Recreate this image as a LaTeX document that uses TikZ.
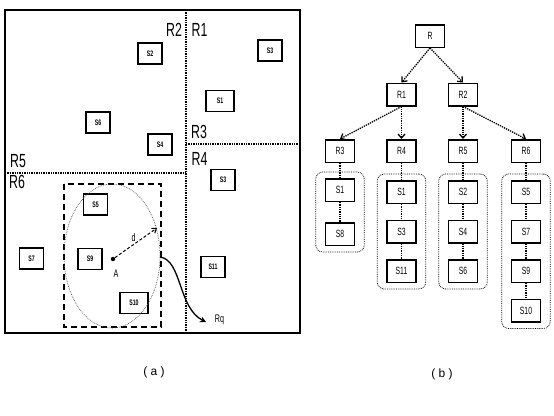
\documentclass[tikz,border=0pt]{standalone}
\usepackage{fontspec}
\setmainfont{Liberation Sans}
\usepackage{graphicx}
\usetikzlibrary{positioning,fit,arrows.meta}
\newcommand{\nrw}[1]{\scalebox{0.65}[1]{#1}}
\tikzset{
  cell/.style={draw=black,line width=1.4pt,minimum width=24pt,minimum height=21pt,inner sep=0pt,font=\bfseries\fontsize{8}{8}\selectfont},
  tnode/.style={draw=black,line width=1.5pt,minimum width=29pt,minimum height=22.5pt,inner sep=0pt,font=\fontsize{10.5}{10.5}\selectfont},
  region/.style={inner sep=0pt,font=\fontsize{19}{19}\selectfont},
  mark label/.style={inner sep=0pt,font=\fontsize{11}{11}\selectfont},
  split/.style={line width=1.4pt,densely dotted},
  link/.style={line width=1.3pt,densely dotted},
  tarrow/.style={link,-{Straight Barb[length=4pt,width=7pt]}},
  group/.style={draw=black,line width=0.8pt,densely dotted,rounded corners=7pt,inner xsep=9pt,inner ysep=6pt},
  caption/.style={inner sep=0pt,font=\fontsize{12}{12}\selectfont}
}
\begin{document}
\begin{tikzpicture}[x=1pt,y=-1pt,node distance=15.5pt]
  \useasboundingbox (0,0) rectangle (554,415);
  % (a) partition of the space
  \draw[line width=1.5pt] (5,10) rectangle (300,333);
  \draw[split] (186,10) -- (186,333);
  \draw[split] (5,173) -- (186,173);
  \draw[split] (186,144) -- (300,144);
  \node[region] (r2) at (174,30) {\nrw{R2}};
  \node[region] (r1) at (199.5,30) {\nrw{R1}};
  \node[region] (r3) at (199,132) {\nrw{R3}};
  \node[region] (r4) at (199.5,159) {\nrw{R4}};
  \node[region] (r5) at (18,161) {\nrw{R5}};
  \node[region] (r6) at (17,182) {\nrw{R6}};
  \node[cell] (s2) at (150,53.5) {\nrw{S2}};
  \node[cell] (s3a) at (270,50.5) {\nrw{S3}};
  \node[cell,minimum width=28pt] (s1) at (220,101) {\nrw{S1}};
  \node[cell] (s6) at (98,122.5) {\nrw{S6}};
  \node[cell] (s4) at (160,144.5) {\nrw{S4}};
  \node[cell] (s3) at (223,180) {\nrw{S3}};
  \node[cell] (s5) at (95.5,204.5) {\nrw{S5}};
  \node[cell] (s7) at (31.5,258.5) {\nrw{S7}};
  \node[cell] (s9) at (90,259) {\nrw{S9}};
  \node[cell] (s11) at (213,267) {\nrw{S11}};
  \node[cell,minimum width=28pt] (s10) at (134,303) {\nrw{S10}};
  % query window
  \draw[line width=1.4pt,dash pattern=on 6pt off 4pt] (64,184) rectangle (161,327);
  \draw[black!70,densely dotted,line width=0.7pt] (112,256) ellipse [x radius=48pt,y radius=72pt];
  \node[circle,fill=black,inner sep=0pt,minimum size=4.5pt] (a) at (113,259) {};
  \node[mark label] (alab) at (116,273.5) {\nrw{A}};
  \coordinate (rim) at (157,228);
  \draw[line width=1pt,densely dashed,-{Straight Barb[length=4pt,width=6pt]}] (a) -- (rim);
  \node[mark label] (d) at (133.5,238) {\nrw{d}};
  \coordinate (out) at (160,257);
  \coordinate (tip) at (206,322);
  \draw[line width=1.3pt,-{Stealth[length=6pt,width=6pt]}] (out) .. controls (182,260) and (178,308) .. (tip);
  \node[mark label] (rq) at (219.5,319.5) {\nrw{Rq}};
  \node[caption] (capa) at (154,372) {( a )};
  % (b) the tree
  \node[tnode] (R) at (430,36) {\nrw{R}};
  \node[tnode] (R1) at (401.5,94.5) {\nrw{R1}};
  \node[tnode] (R2) at (463,94.5) {\nrw{R2}};
  \node[tnode] (R3) at (340,151) {\nrw{R3}};
  \node[tnode] (R4) at (401.5,151) {\nrw{R4}};
  \node[tnode] (R5) at (463,151) {\nrw{R5}};
  \node[tnode] (R6) at (526,151) {\nrw{R6}};
  \draw[tarrow] (R.south) -- (R1.north);
  \draw[tarrow] (R.south) -- (R2.north);
  \draw[tarrow] (R1.south) -- (R3.north);
  \draw[tarrow] (R1.south) -- (R4.north);
  \draw[tarrow] (R2.south) -- (R5.north);
  \draw[tarrow] (R2.south) -- (R6.north);
  % leaves
  \node[tnode,below=15pt of R3] (l31) {\nrw{S1}};
  \node[tnode,below=20pt of l31] (l32) {\nrw{S8}};
  \node[tnode,below=17pt of R4] (l41) {\nrw{S1}};
  \node[tnode,below=of l41] (l42) {\nrw{S3}};
  \node[tnode,below=of l42] (l43) {\nrw{S11}};
  \node[tnode,below=17pt of R5] (l51) {\nrw{S2}};
  \node[tnode,below=of l51] (l52) {\nrw{S4}};
  \node[tnode,below=of l52] (l53) {\nrw{S6}};
  \node[tnode,below=17pt of R6] (l61) {\nrw{S5}};
  \node[tnode,below=of l61] (l62) {\nrw{S7}};
  \node[tnode,below=of l62] (l63) {\nrw{S9}};
  \node[tnode,below=of l63] (l64) {\nrw{S10}};
  \draw[link] (R3) -- (l31) -- (l32);
  \draw[link] (R4) -- (l41) -- (l42) -- (l43);
  \draw[link] (R5) -- (l51) -- (l52) -- (l53);
  \draw[link] (R6) -- (l61) -- (l62) -- (l63) -- (l64);
  \node[group,fit=(l31)(l32)] (g3) {};
  \node[group,fit=(l41)(l43)] (g4) {};
  \node[group,fit=(l51)(l53)] (g5) {};
  \node[group,fit=(l61)(l64)] (g6) {};
  \node[caption] (capb) at (442,374) {( b )};
\end{tikzpicture}
\end{document}
